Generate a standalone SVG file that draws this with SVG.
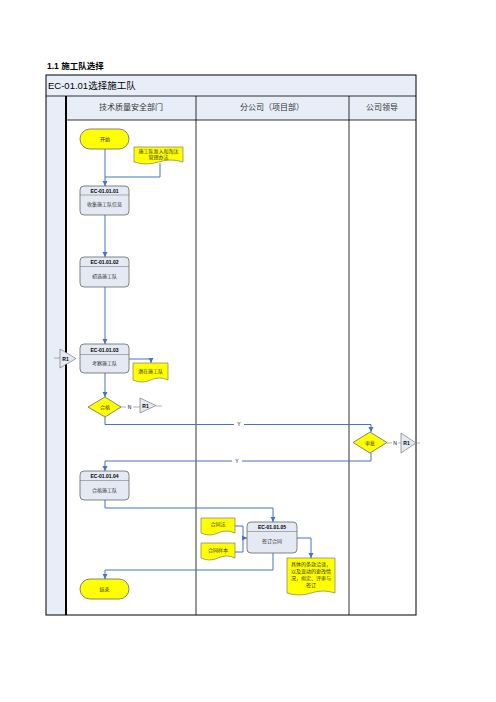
<svg xmlns="http://www.w3.org/2000/svg" width="496" height="702" viewBox="0 0 496 702">
<style>
.cn{font-family:"Liberation Serif","Noto Sans CJK SC",serif;}
.hd{font-size:8px;fill:#333;text-anchor:middle;}
.lbl{font-size:5px;fill:#333;text-anchor:middle;}
.code{font-size:5px;font-weight:bold;fill:#000;text-anchor:middle;font-family:"Liberation Sans",sans-serif;}
.proc{fill:#e4e9f3;stroke:#666;stroke-width:0.8;}
.term{fill:#ffff00;stroke:#666;stroke-width:0.8;}
.doc{fill:#ffff00;stroke:#666;stroke-width:0.6;}
.off{fill:#e4e9f3;stroke:#666;stroke-width:0.6;}
.ln{fill:none;stroke:#4472c4;stroke-width:1;}
.gl{fill:none;stroke:#666;stroke-width:0.5;}
.yn{font-size:5px;fill:#000;text-anchor:middle;font-family:"Liberation Sans",sans-serif;}
</style>
<defs>
<marker id="ah" markerWidth="6" markerHeight="6" refX="5" refY="3" orient="auto" markerUnits="userSpaceOnUse">
<path d="M0,0.5 L5,3 L0,5.5 Z" fill="#4472c4"/>
</marker>
</defs>
<rect width="496" height="702" fill="#fff"/>
<text x="47" y="69" font-family="Liberation Sans,Noto Sans CJK SC,sans-serif" font-size="8.5" font-weight="bold">1.1 施工队选择</text>
<g id="table">
<rect x="46" y="75" width="370" height="21" fill="#e8eef8"/>
<rect x="46" y="96" width="20" height="519" fill="#e8eef8"/>
<rect x="66" y="96" width="350" height="24" fill="#e8eef8"/>
<rect x="46" y="75" width="370" height="540" fill="none" stroke="#000" stroke-width="1"/>
<line x1="46" y1="96" x2="416" y2="96" stroke="#000" stroke-width="0.8"/>
<line x1="66" y1="120" x2="416" y2="120" stroke="#000" stroke-width="0.8"/>
<line x1="66" y1="96" x2="66" y2="615" stroke="#000" stroke-width="2"/>
<line x1="196" y1="96" x2="196" y2="615" stroke="#000" stroke-width="0.8"/>
<line x1="349" y1="96" x2="349" y2="615" stroke="#000" stroke-width="0.8"/>
<text x="48" y="89" font-size="9.5"><tspan font-family="Liberation Sans,sans-serif">EC-01.01</tspan><tspan class="cn">选择施工队</tspan></text>
<text class="cn hd" x="131" y="110">技术质量安全部门</text>
<text class="cn hd" x="272" y="110">分公司（项目部）</text>
<text class="cn hd" x="382" y="110">公司领导</text>
</g>
<g id="connectors">
<path class="ln" d="M105,149 V186" marker-end="url(#ah)"/>
<path class="ln" d="M160,163 V177 H105"/>
<path class="ln" d="M105,215 V257" marker-end="url(#ah)"/>
<path class="ln" d="M105,287 V344" marker-end="url(#ah)"/>
<path class="ln" d="M129,359 H151 V363" marker-end="url(#ah)"/>
<path class="ln" d="M105,373 V397" marker-end="url(#ah)"/>
<path class="ln" d="M105,417 V424.5 H371 V432" marker-end="url(#ah)"/>
<path class="ln" d="M371,453 V461 H105 V471" marker-end="url(#ah)"/>
<path class="ln" d="M105,500 V508 H273 V522" marker-end="url(#ah)"/>
<path class="ln" d="M235,526 H243 V552 H235"/>
<path class="ln" d="M243,538 H247" marker-end="url(#ah)"/>
<path class="ln" d="M297,538 H311 V558" marker-end="url(#ah)"/>
<path class="ln" d="M273,553 V570 H105 V579" marker-end="url(#ah)"/>
<path class="gl" d="M54,358 H60"/>
<path class="gl" d="M121,407 H126 M133,407 H140 M156,406 H162"/>
<path class="gl" d="M387,443 H392 M398,443 H401 M416,443 H420"/>
<rect x="234" y="421" width="10" height="6" fill="#fff"/>
<text class="yn" x="239" y="426">Y</text>
<rect x="232" y="458" width="10" height="6" fill="#fff"/>
<text class="yn" x="237" y="463">Y</text>
<text class="yn" x="129.5" y="409">N</text>
<text class="yn" x="395" y="445">N</text>
</g>
<g id="start">
<rect class="term" x="80" y="129" width="49" height="20" rx="10"/>
<text class="cn lbl" x="105" y="141">开始</text>
</g>
<g id="doc1">
<path class="doc" d="M134,147 H183 V162 Q170.75,158 158.5,162 T134,162 Z"/>
<text class="cn lbl" x="158.5" y="153">施工队准入和淘汰</text>
<text class="cn lbl" x="158.5" y="159">管理办法</text>
</g>
<g id="p1">
<rect class="proc" x="80" y="186" width="49" height="29" rx="4"/>
<line class="gl" x1="80" y1="195" x2="129" y2="195"/>
<text class="code" x="104.5" y="192.5">EC-01.01.01</text>
<text class="cn lbl" x="104.5" y="206">收集施工队信息</text>
</g>
<g id="p2">
<rect class="proc" x="80" y="257" width="49" height="30" rx="4"/>
<line class="gl" x1="80" y1="266.5" x2="129" y2="266.5"/>
<text class="code" x="104.5" y="264">EC-01.01.02</text>
<text class="cn lbl" x="104.5" y="278">初选施工队</text>
</g>
<g id="r1a">
<path class="off" d="M60,349 L76,358.5 L60,368 Z"/>
<text class="yn" x="65.5" y="360.5" font-weight="bold">R1</text>
</g>
<g id="p3">
<rect class="proc" x="80" y="344" width="49" height="29" rx="4"/>
<line class="gl" x1="80" y1="354.5" x2="129" y2="354.5"/>
<text class="code" x="104.5" y="352">EC-01.01.03</text>
<text class="cn lbl" x="104.5" y="365">考察施工队</text>
</g>
<g id="doc2">
<path class="doc" d="M133,363 H168 V380 Q159.25,376 150.5,380 T133,380 Z"/>
<text class="cn lbl" x="150.5" y="373">潜在施工队</text>
</g>
<g id="d1">
<path class="term" d="M105,397 L121,407 L105,417 L88,407 Z"/>
<text class="cn lbl" x="105" y="409">合格</text>
</g>
<g id="r1b">
<path class="off" d="M140,398 L156,405.5 L140,413 Z"/>
<text class="yn" x="145.5" y="407.5" font-weight="bold">R1</text>
</g>
<g id="d2">
<path class="term" d="M370,432 L387,442.5 L370,453 L353,442.5 Z"/>
<text class="cn lbl" x="370" y="444.5">审批</text>
</g>
<g id="r1c">
<path class="off" d="M401,433 L416,443 L401,453 Z"/>
<text class="yn" x="406.5" y="445" font-weight="bold">R1</text>
</g>
<g id="p4">
<rect class="proc" x="80" y="471" width="49" height="29" rx="4"/>
<line class="gl" x1="80" y1="480.5" x2="129" y2="480.5"/>
<text class="code" x="104.5" y="478">EC-01.01.04</text>
<text class="cn lbl" x="104.5" y="492">合格施工队</text>
</g>
<g id="doc3">
<path class="doc" d="M201,518 H235 V533 Q226.5,529 218,533 T201,533 Z"/>
<text class="cn lbl" x="218" y="526">合同法</text>
</g>
<g id="doc4">
<path class="doc" d="M201,543 H235 V558 Q226.5,554 218,558 T201,558 Z"/>
<text class="cn lbl" x="218" y="551.5">合同样本</text>
</g>
<g id="p5">
<rect class="proc" x="247" y="522" width="50" height="31" rx="4"/>
<line class="gl" x1="247" y1="531.5" x2="297" y2="531.5"/>
<text class="code" x="272" y="529">EC-01.01.05</text>
<text class="cn lbl" x="272" y="543">签订合同</text>
</g>
<g id="doc5">
<path class="doc" d="M287,558 H335 V593 Q323,589 311,593 T287,593 Z"/>
<text class="cn lbl" x="311" y="566">具体的条款洽谈，</text>
<text class="cn lbl" x="311" y="573">以及变动的更改情</text>
<text class="cn lbl" x="311" y="580">况，拟定、评审与</text>
<text class="cn lbl" x="311" y="587">签订</text>
</g>
<g id="end">
<rect class="term" x="80" y="579" width="49" height="20" rx="10"/>
<text class="cn lbl" x="104.5" y="591">结束</text>
</g>
</svg>
